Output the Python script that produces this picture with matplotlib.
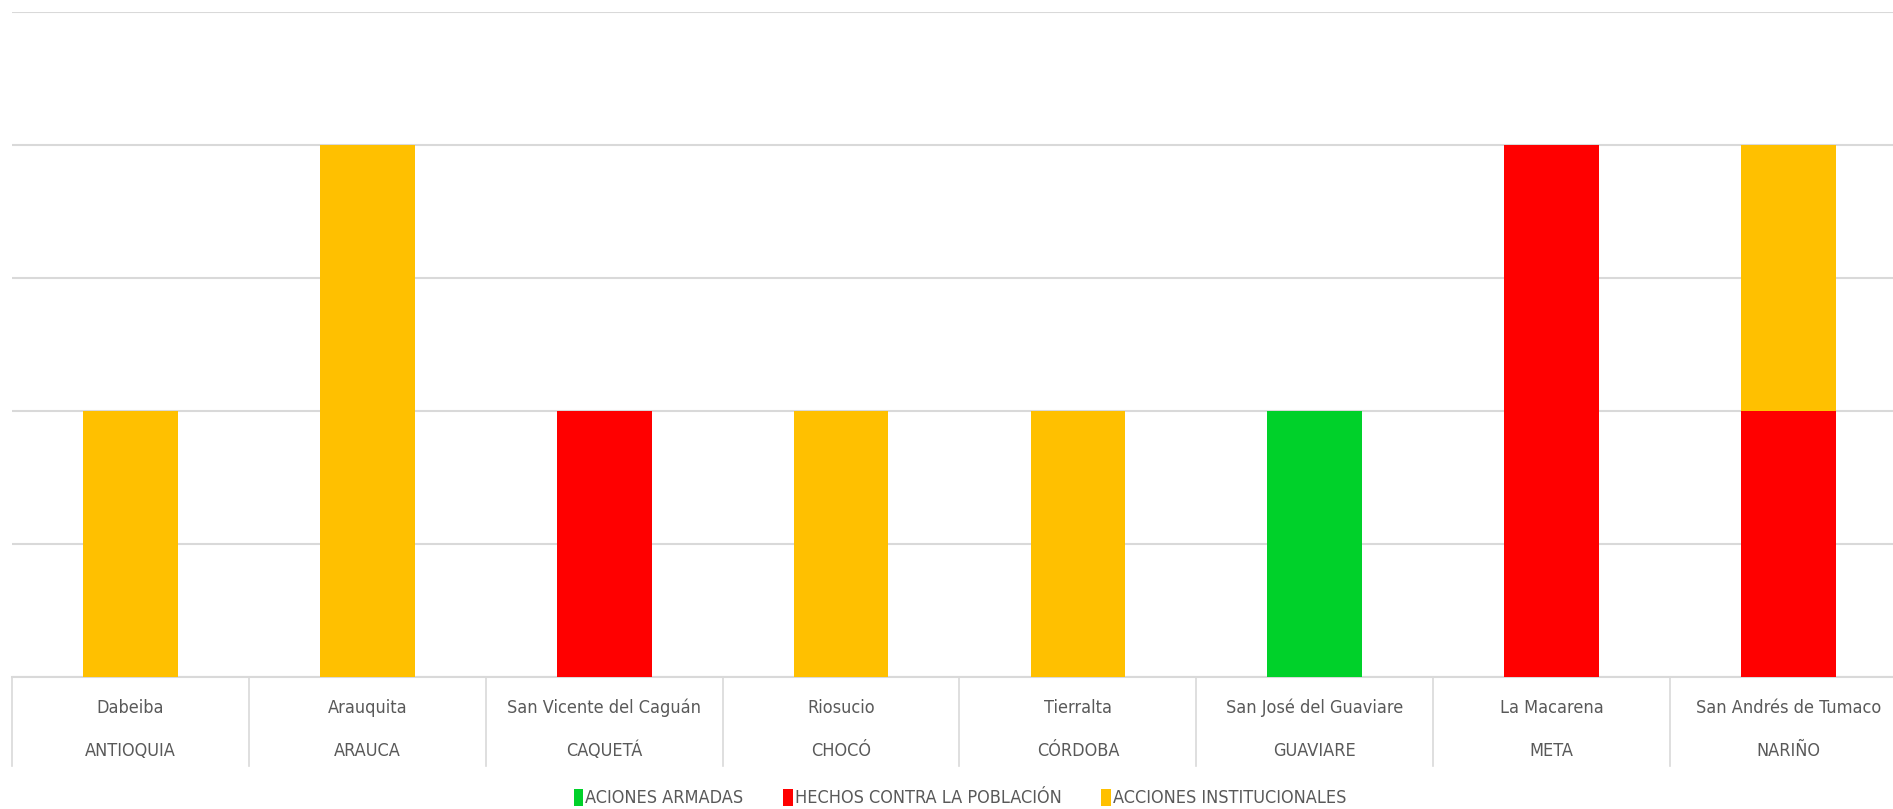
import matplotlib.pyplot as plt
from matplotlib import font_manager
import numpy as np

municipios = ["Dabeiba", "Arauquita", "San Vicente del Caguán", "Riosucio",
              "Tierralta", "San José del Guaviare", "La Macarena",
              "San Andrés de Tumaco"]
departamentos = ["ANTIOQUIA", "ARAUCA", "CAQUETÁ", "CHOCÓ", "CÓRDOBA",
                 "GUAVIARE", "META", "NARIÑO"]

acciones_armadas = [0, 0, 0, 0, 0, 2, 0, 0]
hechos_poblacion = [0, 0, 2, 0, 0, 0, 4, 2]
acciones_institucionales = [2, 4, 0, 2, 2, 0, 0, 2]

series = [
    ("ACIONES ARMADAS", acciones_armadas, "#00D12A"),
    ("HECHOS CONTRA LA POBLACIÓN", hechos_poblacion, "#FF0000"),
    ("ACCIONES INSTITUCIONALES", acciones_institucionales, "#FFC000"),
]

# pick a narrow face if one is installed
names = {f.name for f in font_manager.fontManager.ttflist}
narrow = [n for n in ["Liberation Sans Narrow", "DejaVu Sans Condensed"]
          if n in names]
font = narrow + ["DejaVu Sans"]
prop = font_manager.FontProperties(family=font, stretch="condensed", size=13)
text_color = "#595959"

W, H = 1893, 809
fig = plt.figure(figsize=(W / 100, H / 100), dpi=100)
ax = fig.add_axes([12 / W, 1 - 677 / H, 1895 / W, (677 - 12) / H])

x = np.arange(len(municipios))
bottom = np.zeros(len(municipios))
handles = []
for name, vals, color in series:
    vals = np.array(vals, dtype=float)
    b = ax.bar(x, vals, width=0.4, bottom=bottom, color=color, label=name,
               zorder=3)
    bottom += vals
    handles.append(b)

ax.set_xlim(-0.5, len(municipios) - 0.5)
ax.set_ylim(0, 5)
ax.set_yticks(range(0, 6))
ax.yaxis.grid(True, color="#D9D9D9", linewidth=1.5, zorder=0)
ax.tick_params(axis="y", left=False, labelleft=False)
ax.tick_params(axis="x", bottom=False, labelbottom=False)
for side in ["top", "right", "left"]:
    ax.spines[side].set_visible(False)
ax.spines["bottom"].set_color("#D9D9D9")
ax.spines["bottom"].set_linewidth(1.5)

# two-level category axis
trans = ax.get_xaxis_transform()
sep_bottom = -(766 - 677) / (677 - 12)
for i in range(len(municipios) + 1):
    ax.plot([i - 0.5, i - 0.5], [0, sep_bottom], transform=trans,
            color="#D9D9D9", linewidth=1.2, clip_on=False)
for i, (m, d) in enumerate(zip(municipios, departamentos)):
    ax.text(i, -(708 - 677) / (677 - 12), m, transform=trans, ha="center",
            va="center", fontproperties=prop, color=text_color)
    ax.text(i, -(751 - 677) / (677 - 12), d, transform=trans, ha="center",
            va="center", fontproperties=prop, color=text_color)

fig.legend(handles=handles, loc="center", bbox_to_anchor=(960 / W, 1 - 798 / H),
           ncol=3, frameon=False, handlelength=0.55, handleheight=1.1,
           handletextpad=0.1, columnspacing=2.2,
           prop=prop, labelcolor=text_color)

fig.savefig("out.png", dpi=100)
